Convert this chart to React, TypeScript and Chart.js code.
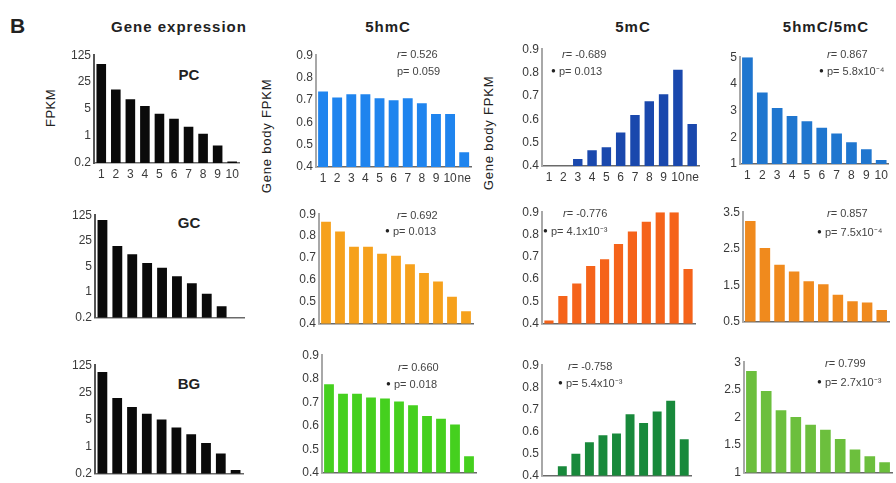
import React, { useEffect, useRef } from 'react';
import { Chart, registerables } from 'chart.js';
Chart.register(...registerables);

const FONT = '"Liberation Sans", Arial, Helvetica, sans-serif';

// ---------- data ----------
const expressionBins = ['1', '2', '3', '4', '5', '6', '7', '8', '9', '10'];
const bodyBins = ['1', '2', '3', '4', '5', '6', '7', '8', '9', '10', 'ne'];
const groups = ['PC', 'GC', 'BG'];
const columnTitles = ['Gene expression', '5hmC', '5mC', '5hmC/5mC'];

const exprPC = [74, 16, 9, 6, 3.8, 2.8, 1.75, 1.15, 0.57, 0.22];
const exprGC = [93, 18, 10.7, 6.2, 4.6, 2.7, 1.75, 0.9, 0.41, null];
const exprBG = [83, 17.8, 10.5, 7, 5, 3.1, 2.1, 1.25, 0.67, 0.25];

const hmcPC = [0.738, 0.711, 0.725, 0.725, 0.707, 0.698, 0.707, 0.685, 0.637, 0.637, 0.466];
const hmcGC = [0.865, 0.821, 0.751, 0.751, 0.72, 0.711, 0.672, 0.632, 0.593, 0.523, 0.457];
const hmcBG = [0.777, 0.736, 0.736, 0.72, 0.716, 0.703, 0.687, 0.642, 0.63, 0.605, 0.47];

const mcPC = [null, null, 0.43, 0.467, 0.48, 0.543, 0.618, 0.677, 0.707, 0.812, 0.58];
const mcGC = [0.415, 0.525, 0.581, 0.659, 0.689, 0.758, 0.814, 0.857, 0.9, 0.9, 0.646];
const mcBG = [null, 0.443, 0.5, 0.552, 0.583, 0.591, 0.678, 0.639, 0.691, 0.739, 0.565];

const ratioPC = [5.0, 3.68, 3.1, 2.8, 2.6, 2.36, 2.14, 1.81, 1.55, 1.15];
const ratioGC = [3.26, 2.52, 2.06, 1.88, 1.61, 1.53, 1.24, 1.06, 1.03, 0.82];
const ratioBG = [2.84, 2.48, 2.13, 2.01, 1.87, 1.78, 1.61, 1.42, 1.3, 1.19];

const exprTicks = [0.2, 1, 5, 25, 125];
const bodyTicks = [0.4, 0.5, 0.6, 0.7, 0.8, 0.9];
const ratioTicksPC = [1, 2, 3, 4, 5];
const ratioTicksGC = [0.5, 1.5, 2.5, 3.5];
const ratioTicksBG = [1, 1.5, 2, 2.5, 3];

const hmcStatR = ['0.526', '0.692', '0.660'];
const hmcStatP = ['0.059', '0.013', '0.018'];
const hmcSig = [false, true, true];
const mcStatR = ['-0.689', '-0.776', '-0.758'];
const mcStatP = ['0.013', '4.1x10⁻³', '5.4x10⁻³'];
const mcSig = [true, true, true];
const ratioStatR = ['0.867', '0.857', '0.799'];
const ratioStatP = ['5.8x10⁻⁴', '7.5x10⁻⁴', '2.7x10⁻³'];
const ratioSig = [true, true, true];

// ---------- panel ----------
type Spec = {
  labels: string[];
  values: (number | null)[];
  color: string;
  log?: boolean;
  min: number;
  max: number;
  ticks: number[];
  fmt: (v: number) => string;
  axisX: number;
  right: number;
  top: number;
  bottom: number;
  showX: boolean;
  barPct: number;
  axisColor: string;
};

function Panel({ spec }: { spec: Spec }) {
  const ref = useRef<HTMLCanvasElement | null>(null);
  const YW = 40;
  const PT = 8;
  const PR = 3;
  const XH = spec.showX ? 24 : 8;
  const left = spec.axisX - YW;
  const top = spec.top - PT;
  const width = Math.round(YW + (spec.right - spec.axisX) + PR);
  const height = Math.round(PT + (spec.bottom - spec.top) + XH);

  useEffect(() => {
    if (!ref.current) return;
    const tickFont = { family: FONT, size: 12 };
    const chart = new Chart(ref.current, {
      type: 'bar',
      data: {
        labels: spec.labels,
        datasets: [
          {
            data: spec.values as any,
            backgroundColor: spec.color,
            barPercentage: spec.barPct,
            categoryPercentage: 1,
            base: spec.log ? undefined : spec.min,
          } as any,
        ],
      },
      options: {
        responsive: false,
        maintainAspectRatio: false,
        animation: false,
        layout: { padding: { top: PT, right: PR, left: 0, bottom: 0 } },
        plugins: { legend: { display: false }, tooltip: { enabled: false } },
        scales: {
          x: {
            grid: { display: false, drawTicks: false },
            border: { display: true, color: '#6a6a6a', width: 1.5 },
            ticks: {
              display: spec.showX,
              padding: 4,
              font: tickFont,
              color: '#3a3a3a',
              autoSkip: false,
              maxRotation: 0,
              minRotation: 0,
            },
            afterFit: (s: any) => {
              s.height = XH;
            },
          },
          y: {
            type: spec.log ? 'logarithmic' : 'linear',
            min: spec.min,
            max: spec.max,
            grid: { display: false, drawTicks: false },
            border: { display: true, color: spec.axisColor, width: 2 },
            ticks: {
              padding: 3,
              font: tickFont,
              color: '#3a3a3a',
              callback: (v: any) => spec.fmt(Number(v)),
            },
            afterBuildTicks: (s: any) => {
              s.ticks = spec.ticks.map((v) => ({ value: v }));
            },
            afterFit: (s: any) => {
              s.width = YW;
            },
          },
        } as any,
      },
    });
    return () => chart.destroy();
  }, []);

  return (
    <canvas
      ref={ref}
      width={width}
      height={height}
      style={{ position: 'absolute', left, top, width, height }}
    />
  );
}

function Stat({ x, y, px, py, r, p, sig }: { x: number; y: number; px: number; py: number; r: string; p: string; sig: boolean }) {
  const base: React.CSSProperties = {
    position: 'absolute',
    fontFamily: FONT,
    fontSize: 11,
    color: '#444',
    whiteSpace: 'nowrap',
    lineHeight: '12px',
    transform: 'translateY(-50%)',
  };
  return (
    <>
      <div style={{ ...base, left: x, top: y }}>
        <i>r</i>= {r}
      </div>
      {sig && <div style={{ ...base, left: px - 8, top: py, fontSize: 8, color: '#222' }}>●</div>}
      <div style={{ ...base, left: px, top: py }}>p= {p}</div>
    </>
  );
}

function Label({ text, x, y, size, bold, rotate, spacing, center }: { text: string; x: number; y: number; size: number; bold?: boolean; rotate?: boolean; spacing?: number; center?: boolean }) {
  return (
    <div
      style={{
        position: 'absolute',
        left: x,
        top: y,
        fontFamily: FONT,
        fontSize: size,
        fontWeight: bold ? 'bold' : 'normal',
        color: '#222',
        whiteSpace: 'nowrap',
        letterSpacing: spacing ?? 0,
        lineHeight: `${size + 2}px`,
        transform: `translate(${center ? '-50%' : '0'}, -50%)${rotate ? ' rotate(-90deg)' : ''}`,
        transformOrigin: 'center',
      }}
    >
      {text}
    </div>
  );
}

const fmtExpr = (v: number) => (v < 1 ? v.toFixed(1) : String(v));
const fmt1 = (v: number) => v.toFixed(1);
const fmtR = (v: number) => String(v);

export default function App() {
  const specs: Spec[] = [
    // column 1: gene expression (log)
    { labels: expressionBins, values: exprPC, color: '#0a0a0a', log: true, min: 0.2, max: 125, ticks: exprTicks, fmt: fmtExpr, axisX: 94, right: 240, top: 53, bottom: 163, showX: true, barPct: 0.66, axisColor: '#555' },
    { labels: expressionBins, values: exprGC, color: '#0a0a0a', log: true, min: 0.2, max: 125, ticks: exprTicks, fmt: fmtExpr, axisX: 94.5, right: 243, top: 213, bottom: 320, showX: false, barPct: 0.66, axisColor: '#555' },
    { labels: expressionBins, values: exprBG, color: '#0a0a0a', log: true, min: 0.2, max: 125, ticks: exprTicks, fmt: fmtExpr, axisX: 94.5, right: 242, top: 363, bottom: 476, showX: false, barPct: 0.66, axisColor: '#555' },
    // column 2: 5hmC
    { labels: bodyBins, values: hmcPC, color: '#1f84ee', min: 0.4, max: 0.9, ticks: bodyTicks, fmt: fmt1, axisX: 316, right: 472, top: 53, bottom: 167, showX: true, barPct: 0.7, axisColor: '#a8a8a8' },
    { labels: bodyBins, values: hmcGC, color: '#f6a11c', min: 0.4, max: 0.9, ticks: bodyTicks, fmt: fmt1, axisX: 319, right: 473, top: 212, bottom: 326, showX: false, barPct: 0.7, axisColor: '#a8a8a8' },
    { labels: bodyBins, values: hmcBG, color: '#45d01e', min: 0.4, max: 0.9, ticks: bodyTicks, fmt: fmt1, axisX: 322, right: 476, top: 353, bottom: 475, showX: false, barPct: 0.7, axisColor: '#a8a8a8' },
    // column 3: 5mC
    { labels: bodyBins, values: mcPC, color: '#1a48ad', min: 0.4, max: 0.9, ticks: bodyTicks, fmt: fmt1, axisX: 541.5, right: 699, top: 47, bottom: 166, showX: true, barPct: 0.66, axisColor: '#a8a8a8' },
    { labels: bodyBins, values: mcGC, color: '#f5631a', min: 0.4, max: 0.9, ticks: bodyTicks, fmt: fmt1, axisX: 542, right: 695, top: 210, bottom: 326, showX: false, barPct: 0.66, axisColor: '#a8a8a8' },
    { labels: bodyBins, values: mcBG, color: '#18893b', min: 0.4, max: 0.9, ticks: bodyTicks, fmt: fmt1, axisX: 542, right: 691, top: 363, bottom: 478, showX: false, barPct: 0.66, axisColor: '#a8a8a8' },
    // column 4: 5hmC/5mC
    { labels: expressionBins, values: ratioPC, color: '#1f76cf', min: 1, max: 5, ticks: ratioTicksPC, fmt: fmtR, axisX: 740, right: 889, top: 55, bottom: 164, showX: true, barPct: 0.72, axisColor: '#a8a8a8' },
    { labels: expressionBins, values: ratioGC, color: '#f08a1d', min: 0.5, max: 3.5, ticks: ratioTicksGC, fmt: fmtR, axisX: 743, right: 889, top: 210, bottom: 324, showX: false, barPct: 0.72, axisColor: '#a8a8a8' },
    { labels: expressionBins, values: ratioBG, color: '#6cbf3d', min: 1, max: 3, ticks: ratioTicksBG, fmt: fmtR, axisX: 743.5, right: 891, top: 360, bottom: 475, showX: false, barPct: 0.72, axisColor: '#a8a8a8' },
  ];

  const hmcPos = [
    { x: 397, y: 54, px: 397, py: 71 },
    { x: 397, y: 215, px: 393, py: 231 },
    { x: 398, y: 367, px: 394, py: 384 },
  ];
  const mcPos = [
    { x: 562, y: 54, px: 559, py: 71 },
    { x: 563, y: 213, px: 551, py: 231 },
    { x: 568, y: 366, px: 566, py: 383 },
  ];
  const ratioPos = [
    { x: 827, y: 54, px: 827, py: 71 },
    { x: 827, y: 213, px: 825, py: 232 },
    { x: 825, y: 363, px: 825, py: 382 },
  ];
  const groupPos = [
    { x: 189, y: 74 },
    { x: 189, y: 222 },
    { x: 189, y: 383 },
  ];

  return (
    <div style={{ position: 'fixed', left: 0, top: 0, width: 896, height: 483, background: '#fff', overflow: 'hidden' }}>
      <Label text="B" x={10} y={25} size={21} bold />
      <Label text={columnTitles[0]} x={179} y={26} size={15} bold spacing={1} center />
      <Label text={columnTitles[1]} x={388} y={26} size={15} bold spacing={1} center />
      <Label text={columnTitles[2]} x={633} y={26} size={15} bold spacing={1} center />
      <Label text={columnTitles[3]} x={826} y={26} size={15} bold spacing={1} center />
      <Label text="FPKM" x={50} y={108} size={13} rotate center spacing={0.5} />
      <Label text="Gene body FPKM" x={266} y={136} size={13} rotate center spacing={0.8} />
      <Label text="Gene body FPKM" x={488} y={133} size={13} rotate center spacing={0.8} />
      {groups.map((g, i) => (
        <Label key={g} text={g} x={groupPos[i].x} y={groupPos[i].y} size={15} bold center />
      ))}
      {specs.map((s, i) => (
        <Panel key={i} spec={s} />
      ))}
      {hmcPos.map((p, i) => (
        <Stat key={'h' + i} {...p} r={hmcStatR[i]} p={hmcStatP[i]} sig={hmcSig[i]} />
      ))}
      {mcPos.map((p, i) => (
        <Stat key={'m' + i} {...p} r={mcStatR[i]} p={mcStatP[i]} sig={mcSig[i]} />
      ))}
      {ratioPos.map((p, i) => (
        <Stat key={'r' + i} {...p} r={ratioStatR[i]} p={ratioStatP[i]} sig={ratioSig[i]} />
      ))}
    </div>
  );
}
